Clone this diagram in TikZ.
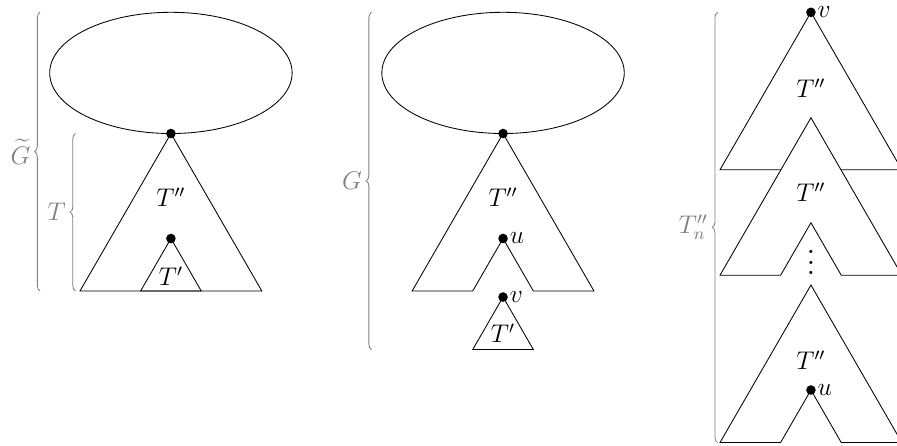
\documentclass[tikz,border=0pt]{standalone}
\usepackage{amsmath}
\usepackage{amssymb}
\usetikzlibrary{decorations.pathreplacing}

\tikzset{
    dot/.style={circle, fill=black, inner sep=0pt, minimum size=4.5pt},
    brc/.style={gray, decorate, decoration={brace}},
    brclabel/.style={gray, midway, left=1pt},
    ptlabel/.style={label={[inner sep=0.5pt]right:#1}}
}

\begin{document}
\begin{tikzpicture}[font=\large]
    \useasboundingbox (0,0) rectangle (14.80,7.343);

    % Left: G tilde
    \draw (2.82,6.14) ellipse (2cm and 1cm);
    \draw (2.82,5.14) -- (1.32,2.542) -- (4.32,2.542) -- cycle;
    \node[dot] (r1) at (2.82,5.14) {};
    \node (tpp1) at (2.82,4.09) {$T''$};
    \draw (2.82,3.408) -- (2.32,2.542) -- (3.32,2.542) -- cycle;
    \node[dot] (t1) at (2.82,3.408) {};
    \node (tp1) at (2.82,2.79) {$T'$};
    \draw[brc] (0.66,2.542) -- (0.66,7.14) node[brclabel] (gt) {$\widetilde{G}$};
    \draw[brc] (1.245,2.542) -- (1.245,5.14) node[brclabel] (t) {$T$};

    % Middle: G
    \draw (8.30,6.14) ellipse (2cm and 1cm);
    \draw (8.30,5.14) -- (6.80,2.542) -- (7.80,2.542) -- (8.30,3.408)
        -- (8.80,2.542) -- (9.80,2.542) -- cycle;
    \node[dot] (r2) at (8.30,5.14) {};
    \node (tpp2) at (8.30,4.09) {$T''$};
    \node[dot, ptlabel=$u$] (u2) at (8.30,3.408) {};
    \draw (8.30,2.442) -- (7.80,1.576) -- (8.80,1.576) -- cycle;
    \node[dot, ptlabel=$v$] (v2) at (8.30,2.442) {};
    \node (tp2) at (8.30,1.85) {$T'$};
    \draw[brc] (6.13,1.576) -- (6.13,7.14) node[brclabel] (g) {$G$};

    % Right: T''_n
    \draw (13.38,7.14) -- (11.88,4.542) -- (14.88,4.542) -- cycle;
    \node[dot, ptlabel=$v$] (v3) at (13.38,7.14) {};
    \node (tpp3a) at (13.38,5.89) {$T''$};
    \draw[fill=white] (13.38,5.40) -- (11.88,2.802) -- (12.88,2.802) -- (13.38,3.668)
        -- (13.88,2.802) -- (14.88,2.802) -- cycle;
    \node (tpp3b) at (13.38,4.175) {$T''$};
    \node[scale=1.25, inner sep=0pt, anchor=base] (dd) at (13.38,2.81) {$\vdots$};
    \draw (13.38,2.64) -- (11.88,0.042) -- (12.88,0.042) -- (13.38,0.908)
        -- (13.88,0.042) -- (14.88,0.042) -- cycle;
    \node[dot, ptlabel=$u$] (u3) at (13.38,0.908) {};
    \node (tpp3c) at (13.38,1.40) {$T''$};
    \draw[brc] (11.84,0.042) -- (11.84,7.14) node[brclabel] (tn) {$T''_n$};
\end{tikzpicture}
\end{document}
